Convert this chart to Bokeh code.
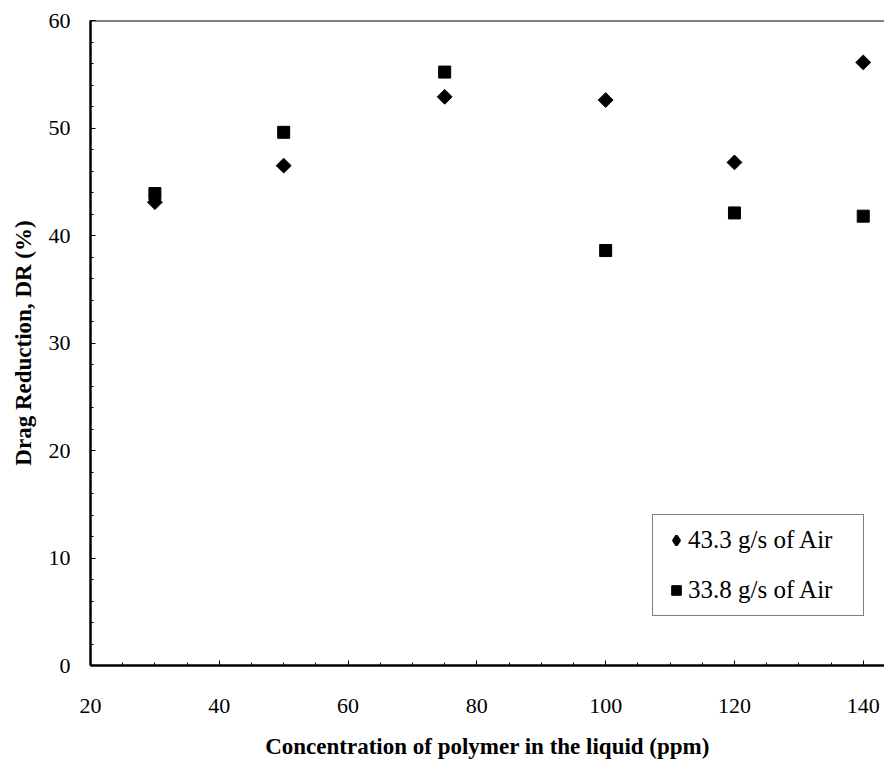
import numpy as np
from bokeh.plotting import figure
from bokeh.models import (Range1d, SingleIntervalTicker, Span, Legend, LegendItem,
                          ColumnDataSource)
from bokeh.embed import file_html
from bokeh.resources import INLINE

# Drag reduction (%) versus polymer concentration (ppm) for two air flow rates
concentration = [30, 50, 75, 100, 120, 140]
dr_air_43_3 = [43.1, 46.5, 52.9, 52.6, 46.8, 56.1]
dr_air_33_8 = [43.9, 49.6, 55.2, 38.6, 42.1, 41.8]
series_labels = ["43.3 g/s of Air", "33.8 g/s of Air"]

FONT = "Liberation Serif"

p = figure(
    width=884, height=763,
    frame_width=794, frame_height=645,
    min_border_left=90, min_border_right=0,
    min_border_top=20, min_border_bottom=98,
    x_range=Range1d(20, 143.3), y_range=Range1d(0, 60),
    output_backend="svg", toolbar_location=None,
    background_fill_color="white", border_fill_color="white",
)
p.outline_line_color = None
p.grid.visible = False

# top border line of the plotting area
p.add_layout(Span(location=60, dimension="width", line_color="black", line_width=2))

src1 = ColumnDataSource(dict(x=concentration, y=dr_air_43_3))
src2 = ColumnDataSource(dict(x=concentration, y=dr_air_33_8))

# diamonds: squares turned by 45 degrees
r1 = p.scatter("x", "y", source=src1, marker="square", size=10.5, angle=np.pi / 4,
               fill_color="black", line_color="black")
r2 = p.scatter("x", "y", source=src2, marker="square", size=12,
               fill_color="black", line_color="black")

# legend key for the diamond series (legend glyphs are never rotated);
# its single point is NaN so nothing is drawn in the plot area
key1 = p.scatter(x=[float("nan")], y=[float("nan")], marker="diamond",
                 fill_color="black", line_color="black", line_width=2.5)

p.xaxis.ticker = SingleIntervalTicker(interval=20, num_minor_ticks=4)
p.yaxis.ticker = SingleIntervalTicker(interval=10, num_minor_ticks=5)

for ax in (p.xaxis[0], p.yaxis[0]):
    ax.axis_line_width = 2.5
    ax.axis_line_color = "black"
    ax.major_tick_in = 5
    ax.major_tick_out = 0
    ax.minor_tick_in = 3
    ax.minor_tick_out = 0
    ax.major_tick_line_color = "black"
    ax.minor_tick_line_color = "black"
    ax.major_label_text_font = FONT
    ax.major_label_text_font_size = "22px"
    ax.major_label_text_color = "black"
    ax.axis_label_text_font = FONT
    ax.axis_label_text_font_size = "23px"
    ax.axis_label_text_font_style = "bold"
    ax.axis_label_text_color = "black"

p.xaxis.axis_label = "Concentration of polymer in the liquid (ppm)"
p.yaxis.axis_label = "Drag Reduction, DR (%)"
p.xaxis.major_label_standoff = 33
p.yaxis.major_label_standoff = 20
p.xaxis.axis_label_standoff = 18
p.yaxis.axis_label_standoff = 10

legend = Legend(
    items=[LegendItem(label=series_labels[0], renderers=[key1], index=0),
           LegendItem(label=series_labels[1], renderers=[r2])],
    location=(562, 49),
    orientation="vertical",
    padding=11, spacing=22,
    glyph_width=24, glyph_height=24,
    label_standoff=0, label_width=164,
    label_text_font=FONT, label_text_font_size="25px",
    label_text_color="black",
    border_line_color="black", border_line_width=1,
    background_fill_color="white", background_fill_alpha=1.0,
)
p.add_layout(legend, "center")

open("out.html", "w").write(file_html(p, INLINE))
